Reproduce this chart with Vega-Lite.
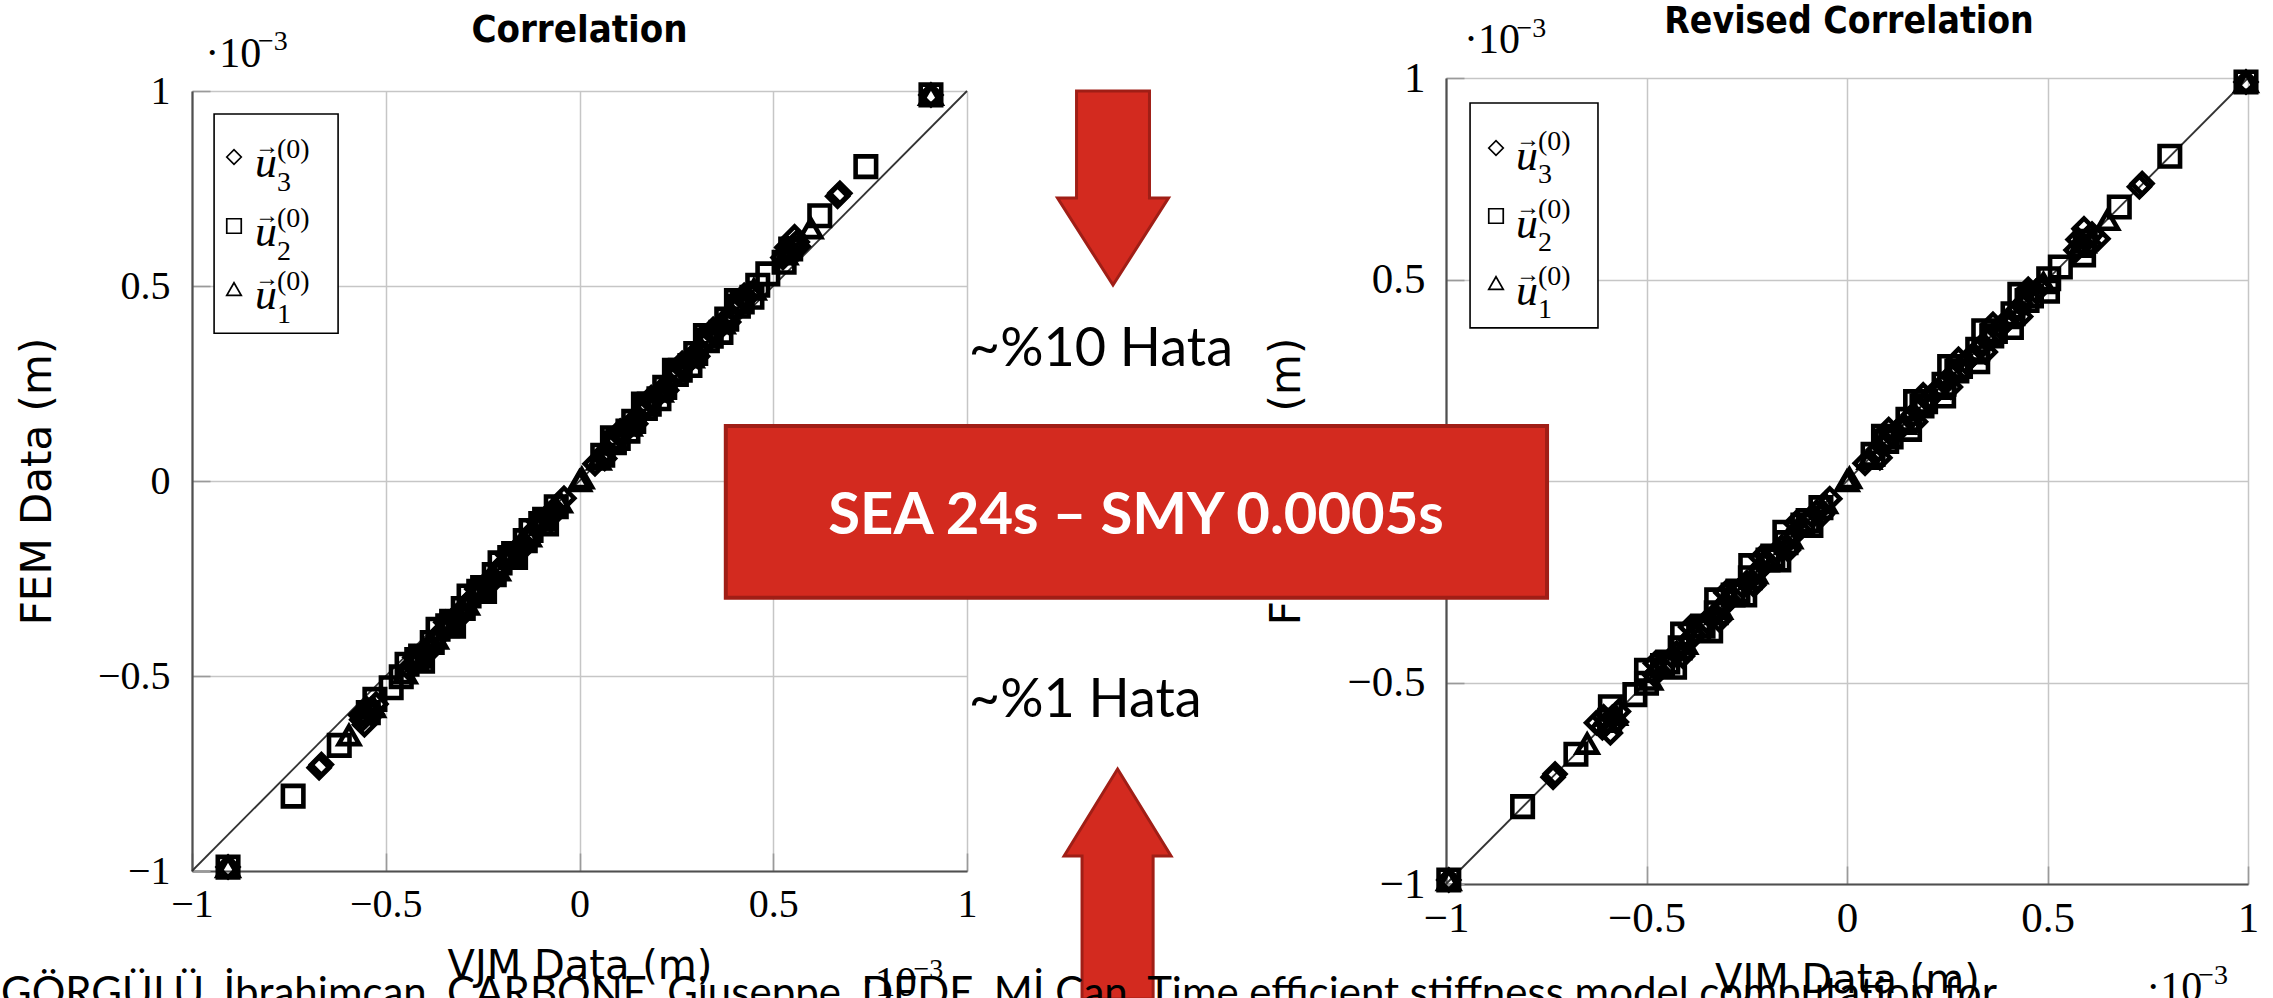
{
  "$schema": "https://vega.github.io/schema/vega-lite/v6.json",
  "background": "white",
  "padding": {"left": 0, "top": 2, "right": 0, "bottom": -17},
  "spacing": 479,
  "bounds": "flush",
  "center": true,
  "config": {
    "view": {"stroke": null},
    "axis": {
      "grid": true, "gridColor": "#c6c6c6", "gridWidth": 1.5,
      "domainColor": "#505050", "domainWidth": 2.2,
      "tickSize": -18, "tickColor": "#9a9a9a", "tickWidth": 1.6,
      "labelFont": "Liberation Serif", "labelColor": "#000",
      "titleFont": "DejaVu Sans", "titleFontWeight": "normal", "titleColor": "#000",
      "labelFlush": false
    }
  },
  "datasets": {
    "diag": [{"v": -1}, {"v": 1}],
    "leg": [
      {"s": "u3", "d": "3", "lx": -0.8916, "ly": 0.8308, "rx": -0.8753, "ry": 0.8263},
      {"s": "u2", "d": "2", "lx": -0.8916, "ly": 0.6538, "rx": -0.8753, "ry": 0.6576},
      {"s": "u1", "d": "1", "lx": -0.8916, "ly": 0.4923, "rx": -0.8753, "ry": 0.4913}
    ],
    "pts": [
      {"s": "u3", "vjm": -0.907, "fem": -0.99, "rev": -0.993},
      {"s": "u2", "vjm": -0.907, "fem": -0.99, "rev": -0.993},
      {"s": "u1", "vjm": -0.907, "fem": -0.99, "rev": -0.993},
      {"s": "u3", "vjm": 0.907, "fem": 0.99, "rev": 0.995},
      {"s": "u2", "vjm": 0.907, "fem": 0.99, "rev": 0.995},
      {"s": "u1", "vjm": 0.907, "fem": 0.99, "rev": 0.995},
      {"s": "u2", "vjm": -0.739, "fem": -0.808, "rev": -0.809},
      {"s": "u2", "vjm": 0.739, "fem": 0.806, "rev": 0.805},
      {"s": "u3", "vjm": -0.672, "fem": -0.735, "rev": -0.733},
      {"s": "u3", "vjm": -0.666, "fem": -0.727, "rev": -0.728},
      {"s": "u3", "vjm": 0.672, "fem": 0.738, "rev": 0.736},
      {"s": "u3", "vjm": 0.666, "fem": 0.73, "rev": 0.729},
      {"s": "u2", "vjm": -0.62, "fem": -0.678, "rev": -0.676},
      {"s": "u2", "vjm": 0.62, "fem": 0.68, "rev": 0.679},
      {"s": "u1", "vjm": -0.595, "fem": -0.652, "rev": -0.648},
      {"s": "u1", "vjm": 0.597, "fem": 0.648, "rev": 0.65},
      {"s": "u3", "vjm": -0.562, "fem": -0.612, "rev": -0.61},
      {"s": "u3", "vjm": -0.552, "fem": -0.601, "rev": -0.6},
      {"s": "u2", "vjm": -0.545, "fem": -0.594, "rev": -0.592},
      {"s": "u3", "vjm": -0.538, "fem": -0.586, "rev": -0.585},
      {"s": "u1", "vjm": -0.532, "fem": -0.58, "rev": -0.578},
      {"s": "u3", "vjm": -0.525, "fem": -0.572, "rev": -0.57},
      {"s": "u3", "vjm": -0.548, "fem": -0.585, "rev": -0.607},
      {"s": "u3", "vjm": -0.535, "fem": -0.598, "rev": -0.575},
      {"s": "u3", "vjm": -0.555, "fem": -0.625, "rev": -0.59},
      {"s": "u2", "vjm": -0.528, "fem": -0.56, "rev": -0.59},
      {"s": "u3", "vjm": -0.565, "fem": -0.6, "rev": -0.625},
      {"s": "u3", "vjm": 0.562, "fem": 0.613, "rev": 0.611},
      {"s": "u3", "vjm": 0.552, "fem": 0.602, "rev": 0.6},
      {"s": "u2", "vjm": 0.545, "fem": 0.595, "rev": 0.594},
      {"s": "u3", "vjm": 0.538, "fem": 0.587, "rev": 0.586},
      {"s": "u1", "vjm": 0.532, "fem": 0.581, "rev": 0.58},
      {"s": "u3", "vjm": 0.525, "fem": 0.573, "rev": 0.571},
      {"s": "u3", "vjm": 0.548, "fem": 0.586, "rev": 0.607},
      {"s": "u3", "vjm": 0.535, "fem": 0.599, "rev": 0.576},
      {"s": "u3", "vjm": 0.555, "fem": 0.626, "rev": 0.591},
      {"s": "u2", "vjm": 0.528, "fem": 0.561, "rev": 0.59},
      {"s": "u3", "vjm": 0.565, "fem": 0.601, "rev": 0.626},
      {"s": "u2", "vjm": -0.486, "fem": -0.53, "rev": -0.529},
      {"s": "u2", "vjm": 0.486, "fem": 0.531, "rev": 0.532},
      {"s": "u1", "vjm": 0, "fem": 0, "rev": 0},
      {"s": "u1", "vjm": 0.006, "fem": 0.007, "rev": 0.006},
      {"s": "u2", "vjm": -0.46, "fem": -0.502, "rev": -0.5},
      {"s": "u3", "vjm": -0.44, "fem": -0.481, "rev": -0.48},
      {"s": "u2", "vjm": -0.42, "fem": -0.458, "rev": -0.46},
      {"s": "u3", "vjm": -0.4, "fem": -0.437, "rev": -0.435},
      {"s": "u2", "vjm": -0.38, "fem": -0.414, "rev": -0.416},
      {"s": "u3", "vjm": -0.36, "fem": -0.393, "rev": -0.392},
      {"s": "u2", "vjm": -0.34, "fem": -0.371, "rev": -0.37},
      {"s": "u3", "vjm": -0.32, "fem": -0.348, "rev": -0.35},
      {"s": "u2", "vjm": -0.3, "fem": -0.327, "rev": -0.326},
      {"s": "u3", "vjm": -0.28, "fem": -0.306, "rev": -0.305},
      {"s": "u2", "vjm": -0.26, "fem": -0.283, "rev": -0.284},
      {"s": "u3", "vjm": -0.24, "fem": -0.262, "rev": -0.26},
      {"s": "u2", "vjm": -0.22, "fem": -0.24, "rev": -0.241},
      {"s": "u3", "vjm": -0.2, "fem": -0.218, "rev": -0.217},
      {"s": "u2", "vjm": -0.18, "fem": -0.196, "rev": -0.197},
      {"s": "u3", "vjm": -0.16, "fem": -0.175, "rev": -0.174},
      {"s": "u2", "vjm": -0.14, "fem": -0.153, "rev": -0.152},
      {"s": "u3", "vjm": -0.12, "fem": -0.131, "rev": -0.13},
      {"s": "u2", "vjm": -0.1, "fem": -0.109, "rev": -0.11},
      {"s": "u3", "vjm": -0.08, "fem": -0.087, "rev": -0.086},
      {"s": "u2", "vjm": -0.06, "fem": -0.066, "rev": -0.065},
      {"s": "u3", "vjm": -0.04, "fem": -0.044, "rev": -0.043},
      {"s": "u3", "vjm": -0.43, "fem": -0.471, "rev": -0.47},
      {"s": "u3", "vjm": -0.39, "fem": -0.427, "rev": -0.425},
      {"s": "u3", "vjm": -0.35, "fem": -0.383, "rev": -0.381},
      {"s": "u3", "vjm": -0.31, "fem": -0.339, "rev": -0.337},
      {"s": "u3", "vjm": -0.27, "fem": -0.295, "rev": -0.294},
      {"s": "u3", "vjm": -0.23, "fem": -0.252, "rev": -0.25},
      {"s": "u3", "vjm": -0.19, "fem": -0.208, "rev": -0.206},
      {"s": "u3", "vjm": -0.15, "fem": -0.164, "rev": -0.163},
      {"s": "u3", "vjm": -0.11, "fem": -0.12, "rev": -0.12},
      {"s": "u3", "vjm": -0.07, "fem": -0.077, "rev": -0.076},
      {"s": "u1", "vjm": -0.45, "fem": -0.493, "rev": -0.49},
      {"s": "u1", "vjm": -0.37, "fem": -0.404, "rev": -0.403},
      {"s": "u1", "vjm": -0.29, "fem": -0.317, "rev": -0.316},
      {"s": "u1", "vjm": -0.21, "fem": -0.229, "rev": -0.228},
      {"s": "u1", "vjm": -0.13, "fem": -0.142, "rev": -0.141},
      {"s": "u1", "vjm": -0.05, "fem": -0.055, "rev": -0.054},
      {"s": "u2", "vjm": -0.41, "fem": -0.449, "rev": -0.447},
      {"s": "u2", "vjm": -0.33, "fem": -0.36, "rev": -0.359},
      {"s": "u2", "vjm": -0.25, "fem": -0.273, "rev": -0.272},
      {"s": "u2", "vjm": -0.17, "fem": -0.186, "rev": -0.185},
      {"s": "u2", "vjm": -0.09, "fem": -0.098, "rev": -0.097},
      {"s": "u3", "vjm": -0.425, "fem": -0.452, "rev": -0.478},
      {"s": "u3", "vjm": -0.385, "fem": -0.434, "rev": -0.41},
      {"s": "u3", "vjm": -0.345, "fem": -0.362, "rev": -0.39},
      {"s": "u3", "vjm": -0.305, "fem": -0.345, "rev": -0.318},
      {"s": "u3", "vjm": -0.265, "fem": -0.277, "rev": -0.302},
      {"s": "u3", "vjm": -0.225, "fem": -0.258, "rev": -0.232},
      {"s": "u3", "vjm": -0.185, "fem": -0.19, "rev": -0.214},
      {"s": "u3", "vjm": -0.145, "fem": -0.171, "rev": -0.146},
      {"s": "u3", "vjm": -0.105, "fem": -0.105, "rev": -0.128},
      {"s": "u3", "vjm": -0.065, "fem": -0.083, "rev": -0.062},
      {"s": "u2", "vjm": -0.445, "fem": -0.47, "rev": -0.5},
      {"s": "u2", "vjm": -0.405, "fem": -0.462, "rev": -0.43},
      {"s": "u2", "vjm": -0.365, "fem": -0.38, "rev": -0.41},
      {"s": "u2", "vjm": -0.325, "fem": -0.372, "rev": -0.34},
      {"s": "u2", "vjm": -0.285, "fem": -0.295, "rev": -0.325},
      {"s": "u2", "vjm": -0.245, "fem": -0.283, "rev": -0.255},
      {"s": "u2", "vjm": -0.205, "fem": -0.21, "rev": -0.24},
      {"s": "u2", "vjm": -0.165, "fem": -0.196, "rev": -0.17},
      {"s": "u2", "vjm": -0.125, "fem": -0.127, "rev": -0.155},
      {"s": "u2", "vjm": -0.085, "fem": -0.11, "rev": -0.09},
      {"s": "u3", "vjm": 0.04, "fem": 0.044, "rev": 0.045},
      {"s": "u2", "vjm": 0.06, "fem": 0.066, "rev": 0.065},
      {"s": "u3", "vjm": 0.08, "fem": 0.088, "rev": 0.087},
      {"s": "u2", "vjm": 0.1, "fem": 0.109, "rev": 0.11},
      {"s": "u3", "vjm": 0.12, "fem": 0.131, "rev": 0.132},
      {"s": "u2", "vjm": 0.14, "fem": 0.153, "rev": 0.152},
      {"s": "u3", "vjm": 0.16, "fem": 0.175, "rev": 0.176},
      {"s": "u2", "vjm": 0.18, "fem": 0.197, "rev": 0.196},
      {"s": "u3", "vjm": 0.2, "fem": 0.219, "rev": 0.218},
      {"s": "u2", "vjm": 0.22, "fem": 0.24, "rev": 0.242},
      {"s": "u3", "vjm": 0.24, "fem": 0.262, "rev": 0.261},
      {"s": "u2", "vjm": 0.26, "fem": 0.284, "rev": 0.283},
      {"s": "u3", "vjm": 0.28, "fem": 0.306, "rev": 0.307},
      {"s": "u2", "vjm": 0.3, "fem": 0.327, "rev": 0.326},
      {"s": "u3", "vjm": 0.32, "fem": 0.349, "rev": 0.35},
      {"s": "u2", "vjm": 0.34, "fem": 0.371, "rev": 0.37},
      {"s": "u3", "vjm": 0.36, "fem": 0.393, "rev": 0.394},
      {"s": "u2", "vjm": 0.38, "fem": 0.415, "rev": 0.414},
      {"s": "u3", "vjm": 0.4, "fem": 0.437, "rev": 0.436},
      {"s": "u2", "vjm": 0.42, "fem": 0.459, "rev": 0.46},
      {"s": "u3", "vjm": 0.44, "fem": 0.48, "rev": 0.481},
      {"s": "u2", "vjm": 0.46, "fem": 0.502, "rev": 0.503},
      {"s": "u3", "vjm": 0.07, "fem": 0.077, "rev": 0.078},
      {"s": "u3", "vjm": 0.11, "fem": 0.12, "rev": 0.121},
      {"s": "u3", "vjm": 0.15, "fem": 0.164, "rev": 0.165},
      {"s": "u3", "vjm": 0.19, "fem": 0.207, "rev": 0.208},
      {"s": "u3", "vjm": 0.23, "fem": 0.251, "rev": 0.252},
      {"s": "u3", "vjm": 0.27, "fem": 0.295, "rev": 0.296},
      {"s": "u3", "vjm": 0.31, "fem": 0.338, "rev": 0.339},
      {"s": "u3", "vjm": 0.35, "fem": 0.382, "rev": 0.383},
      {"s": "u3", "vjm": 0.39, "fem": 0.426, "rev": 0.427},
      {"s": "u3", "vjm": 0.43, "fem": 0.47, "rev": 0.471},
      {"s": "u1", "vjm": 0.05, "fem": 0.055, "rev": 0.056},
      {"s": "u1", "vjm": 0.13, "fem": 0.142, "rev": 0.143},
      {"s": "u1", "vjm": 0.21, "fem": 0.229, "rev": 0.23},
      {"s": "u1", "vjm": 0.29, "fem": 0.317, "rev": 0.318},
      {"s": "u1", "vjm": 0.37, "fem": 0.404, "rev": 0.405},
      {"s": "u1", "vjm": 0.45, "fem": 0.491, "rev": 0.49},
      {"s": "u2", "vjm": 0.09, "fem": 0.098, "rev": 0.099},
      {"s": "u2", "vjm": 0.17, "fem": 0.186, "rev": 0.187},
      {"s": "u2", "vjm": 0.25, "fem": 0.273, "rev": 0.274},
      {"s": "u2", "vjm": 0.33, "fem": 0.36, "rev": 0.361},
      {"s": "u2", "vjm": 0.41, "fem": 0.448, "rev": 0.449},
      {"s": "u3", "vjm": 0.065, "fem": 0.058, "rev": 0.082},
      {"s": "u3", "vjm": 0.105, "fem": 0.128, "rev": 0.104},
      {"s": "u3", "vjm": 0.145, "fem": 0.147, "rev": 0.171},
      {"s": "u3", "vjm": 0.185, "fem": 0.214, "rev": 0.19},
      {"s": "u3", "vjm": 0.225, "fem": 0.233, "rev": 0.258},
      {"s": "u3", "vjm": 0.265, "fem": 0.302, "rev": 0.278},
      {"s": "u3", "vjm": 0.305, "fem": 0.32, "rev": 0.345},
      {"s": "u3", "vjm": 0.345, "fem": 0.389, "rev": 0.364},
      {"s": "u3", "vjm": 0.385, "fem": 0.408, "rev": 0.433},
      {"s": "u3", "vjm": 0.425, "fem": 0.476, "rev": 0.452},
      {"s": "u2", "vjm": 0.445, "fem": 0.471, "rev": 0.5},
      {"s": "u2", "vjm": 0.405, "fem": 0.463, "rev": 0.431},
      {"s": "u2", "vjm": 0.365, "fem": 0.381, "rev": 0.41},
      {"s": "u2", "vjm": 0.325, "fem": 0.373, "rev": 0.341},
      {"s": "u2", "vjm": 0.285, "fem": 0.296, "rev": 0.326},
      {"s": "u2", "vjm": 0.245, "fem": 0.284, "rev": 0.256},
      {"s": "u2", "vjm": 0.205, "fem": 0.211, "rev": 0.241},
      {"s": "u2", "vjm": 0.165, "fem": 0.197, "rev": 0.171},
      {"s": "u2", "vjm": 0.125, "fem": 0.128, "rev": 0.156},
      {"s": "u2", "vjm": 0.085, "fem": 0.111, "rev": 0.091}
    ]
  },
  "hconcat": [
    {
      "width": 775,
      "height": 780,
      "layer": [
        {
          "data": {"name": "diag"},
          "mark": {"type": "line", "color": "#333", "strokeWidth": 1.8},
          "encoding": {
            "x": {"field": "v", "type": "quantitative", "scale": {"domain": [-1, 1], "nice": false, "zero": false}},
            "y": {"field": "v", "type": "quantitative", "scale": {"domain": [-1, 1], "nice": false, "zero": false}}
          }
        },
        {
          "data": {"name": "pts"},
          "mark": {"type": "point", "filled": false, "color": "#000", "strokeWidth": 4.6, "size": 420, "opacity": 1},
          "encoding": {
            "x": {"field": "vjm", "type": "quantitative", "scale": {"domain": [-1, 1], "nice": false, "zero": false},
              "axis": {"title": "VJM Data (m)", "values": [-1, -0.5, 0, 0.5, 1], "format": ".1~f", "labelFontSize": 40, "labelPadding": 31, "titleFontSize": 40, "titlePadding": 22}},
            "y": {"field": "fem", "type": "quantitative", "scale": {"domain": [-1, 1], "nice": false, "zero": false},
              "axis": {"title": "FEM Data (m)", "values": [-1, -0.5, 0, 0.5, 1], "format": ".1~f", "labelFontSize": 40, "labelPadding": 40, "titleFontSize": 42, "titlePadding": 38}},
            "shape": {"field": "s", "type": "nominal", "scale": {"domain": ["u3", "u2", "u1"], "range": ["diamond", "square", "triangle-up"]}, "legend": null}
          }
        },
        {
          "data": {"values": [{"x": -0.943, "x2": -0.623, "y": 0.941, "y2": 0.379}]},
          "mark": {"type": "rect", "fill": "#fff", "stroke": "#000", "strokeWidth": 1.6},
          "encoding": {
            "x": {"field": "x", "type": "quantitative", "scale": {"domain": [-1, 1], "nice": false, "zero": false}},
            "x2": {"field": "x2"},
            "y": {"field": "y", "type": "quantitative", "scale": {"domain": [-1, 1], "nice": false, "zero": false}},
            "y2": {"field": "y2"}
          }
        },
        {
          "data": {"name": "leg"},
          "mark": {"type": "point", "filled": false, "color": "#000", "strokeWidth": 1.7, "size": 210, "opacity": 1},
          "encoding": {
            "x": {"field": "lx", "type": "quantitative", "scale": {"domain": [-1, 1], "nice": false, "zero": false}},
            "y": {"field": "ly", "type": "quantitative", "scale": {"domain": [-1, 1], "nice": false, "zero": false}},
            "shape": {"field": "s", "type": "nominal", "scale": {"domain": ["u3", "u2", "u1"], "range": ["diamond", "square", "triangle-up"]}, "legend": null}
          }
        },
        {
          "data": {"name": "leg"},
          "mark": {"type": "text", "text": "u", "font": "Liberation Serif", "fontStyle": "italic", "fontSize": 44, "align": "left", "baseline": "alphabetic", "dx": 21, "dy": 20, "color": "#000"},
          "encoding": {
            "x": {"field": "lx", "type": "quantitative", "scale": {"domain": [-1, 1], "nice": false, "zero": false}},
            "y": {"field": "ly", "type": "quantitative", "scale": {"domain": [-1, 1], "nice": false, "zero": false}}
          }
        },
        {
          "data": {"name": "leg"},
          "mark": {"type": "text", "text": "→", "font": "Liberation Serif", "fontSize": 24, "align": "center", "baseline": "middle", "dx": 33, "dy": -10, "color": "#000"},
          "encoding": {
            "x": {"field": "lx", "type": "quantitative", "scale": {"domain": [-1, 1], "nice": false, "zero": false}},
            "y": {"field": "ly", "type": "quantitative", "scale": {"domain": [-1, 1], "nice": false, "zero": false}}
          }
        },
        {
          "data": {"name": "leg"},
          "mark": {"type": "text", "text": "(0)", "font": "Liberation Serif", "fontSize": 28, "align": "left", "baseline": "alphabetic", "dx": 43, "dy": 1, "color": "#000"},
          "encoding": {
            "x": {"field": "lx", "type": "quantitative", "scale": {"domain": [-1, 1], "nice": false, "zero": false}},
            "y": {"field": "ly", "type": "quantitative", "scale": {"domain": [-1, 1], "nice": false, "zero": false}}
          }
        },
        {
          "data": {"name": "leg"},
          "mark": {"type": "text", "font": "Liberation Serif", "fontSize": 28, "align": "left", "baseline": "alphabetic", "dx": 43, "dy": 34, "color": "#000"},
          "encoding": {
            "x": {"field": "lx", "type": "quantitative", "scale": {"domain": [-1, 1], "nice": false, "zero": false}},
            "y": {"field": "ly", "type": "quantitative", "scale": {"domain": [-1, 1], "nice": false, "zero": false}},
            "text": {"field": "d"}
          }
        },
        {
          "data": {"values": [{"x": 0.0, "y": 1.1254, "t": "Correlation"}]},
          "mark": {"type": "text", "font": "DejaVu Sans Condensed, Liberation Sans Narrow, sans-serif", "fontWeight": "bold", "fontSize": 38, "align": "center", "baseline": "alphabetic", "color": "#000"},
          "encoding": {
            "x": {"field": "x", "type": "quantitative", "scale": {"domain": [-1, 1], "nice": false, "zero": false}},
            "y": {"field": "y", "type": "quantitative", "scale": {"domain": [-1, 1], "nice": false, "zero": false}},
            "text": {"field": "t"}
          }
        },
        {
          "data": {"values": [{"x": -0.966, "y": 1.0615, "t": "·10"}, {"x": 0.726, "y": -1.3205, "t": "·10"}]},
          "mark": {"type": "text", "font": "Liberation Serif", "fontSize": 42, "align": "left", "baseline": "alphabetic", "color": "#000"},
          "encoding": {
            "x": {"field": "x", "type": "quantitative", "scale": {"domain": [-1, 1], "nice": false, "zero": false}},
            "y": {"field": "y", "type": "quantitative", "scale": {"domain": [-1, 1], "nice": false, "zero": false}},
            "text": {"field": "t"}
          }
        },
        {
          "data": {"values": [{"x": -0.83, "y": 1.105, "t": "−3"}, {"x": 0.862, "y": -1.275, "t": "−3"}]},
          "mark": {"type": "text", "font": "Liberation Serif", "fontSize": 28, "align": "left", "baseline": "alphabetic", "color": "#000"},
          "encoding": {
            "x": {"field": "x", "type": "quantitative", "scale": {"domain": [-1, 1], "nice": false, "zero": false}},
            "y": {"field": "y", "type": "quantitative", "scale": {"domain": [-1, 1], "nice": false, "zero": false}},
            "text": {"field": "t"}
          }
        }
      ]
    },
    {
      "width": 802,
      "height": 806,
      "layer": [
        {
          "data": {"name": "diag"},
          "mark": {"type": "line", "color": "#333", "strokeWidth": 1.8},
          "encoding": {
            "x": {"field": "v", "type": "quantitative", "scale": {"domain": [-1, 1], "nice": false, "zero": false}},
            "y": {"field": "v", "type": "quantitative", "scale": {"domain": [-1, 1], "nice": false, "zero": false}}
          }
        },
        {
          "data": {"name": "pts"},
          "mark": {"type": "point", "filled": false, "color": "#000", "strokeWidth": 4.6, "size": 420, "opacity": 1},
          "encoding": {
            "x": {"field": "rev", "type": "quantitative", "scale": {"domain": [-1, 1], "nice": false, "zero": false},
              "axis": {"title": "VJM Data (m)", "values": [-1, -0.5, 0, 0.5, 1], "format": ".1~f", "labelFontSize": 43, "labelPadding": 31, "titleFontSize": 40, "titlePadding": 20}},
            "y": {"field": "fem", "type": "quantitative", "scale": {"domain": [-1, 1], "nice": false, "zero": false},
              "axis": {"title": "FEM Data (m)", "values": [-1, -0.5, 0, 0.5, 1], "format": ".1~f", "labelFontSize": 43, "labelPadding": 39, "titleFontSize": 42, "titlePadding": 38}},
            "shape": {"field": "s", "type": "nominal", "scale": {"domain": ["u3", "u2", "u1"], "range": ["diamond", "square", "triangle-up"]}, "legend": null}
          }
        },
        {
          "data": {"values": [{"x": -0.94, "x2": -0.621, "y": 0.938, "y2": 0.38}]},
          "mark": {"type": "rect", "fill": "#fff", "stroke": "#000", "strokeWidth": 1.6},
          "encoding": {
            "x": {"field": "x", "type": "quantitative", "scale": {"domain": [-1, 1], "nice": false, "zero": false}},
            "x2": {"field": "x2"},
            "y": {"field": "y", "type": "quantitative", "scale": {"domain": [-1, 1], "nice": false, "zero": false}},
            "y2": {"field": "y2"}
          }
        },
        {
          "data": {"name": "leg"},
          "mark": {"type": "point", "filled": false, "color": "#000", "strokeWidth": 1.7, "size": 210, "opacity": 1},
          "encoding": {
            "x": {"field": "rx", "type": "quantitative", "scale": {"domain": [-1, 1], "nice": false, "zero": false}},
            "y": {"field": "ry", "type": "quantitative", "scale": {"domain": [-1, 1], "nice": false, "zero": false}},
            "shape": {"field": "s", "type": "nominal", "scale": {"domain": ["u3", "u2", "u1"], "range": ["diamond", "square", "triangle-up"]}, "legend": null}
          }
        },
        {
          "data": {"name": "leg"},
          "mark": {"type": "text", "text": "u", "font": "Liberation Serif", "fontStyle": "italic", "fontSize": 44, "align": "left", "baseline": "alphabetic", "dx": 20, "dy": 22, "color": "#000"},
          "encoding": {
            "x": {"field": "rx", "type": "quantitative", "scale": {"domain": [-1, 1], "nice": false, "zero": false}},
            "y": {"field": "ry", "type": "quantitative", "scale": {"domain": [-1, 1], "nice": false, "zero": false}}
          }
        },
        {
          "data": {"name": "leg"},
          "mark": {"type": "text", "text": "→", "font": "Liberation Serif", "fontSize": 24, "align": "center", "baseline": "middle", "dx": 32, "dy": -8, "color": "#000"},
          "encoding": {
            "x": {"field": "rx", "type": "quantitative", "scale": {"domain": [-1, 1], "nice": false, "zero": false}},
            "y": {"field": "ry", "type": "quantitative", "scale": {"domain": [-1, 1], "nice": false, "zero": false}}
          }
        },
        {
          "data": {"name": "leg"},
          "mark": {"type": "text", "text": "(0)", "font": "Liberation Serif", "fontSize": 28, "align": "left", "baseline": "alphabetic", "dx": 42, "dy": 2, "color": "#000"},
          "encoding": {
            "x": {"field": "rx", "type": "quantitative", "scale": {"domain": [-1, 1], "nice": false, "zero": false}},
            "y": {"field": "ry", "type": "quantitative", "scale": {"domain": [-1, 1], "nice": false, "zero": false}}
          }
        },
        {
          "data": {"name": "leg"},
          "mark": {"type": "text", "font": "Liberation Serif", "fontSize": 28, "align": "left", "baseline": "alphabetic", "dx": 42, "dy": 35, "color": "#000"},
          "encoding": {
            "x": {"field": "rx", "type": "quantitative", "scale": {"domain": [-1, 1], "nice": false, "zero": false}},
            "y": {"field": "ry", "type": "quantitative", "scale": {"domain": [-1, 1], "nice": false, "zero": false}},
            "text": {"field": "d"}
          }
        },
        {
          "data": {"values": [{"x": 0.005, "y": 1.1117, "t": "Revised Correlation"}]},
          "mark": {"type": "text", "font": "DejaVu Sans Condensed, Liberation Sans Narrow, sans-serif", "fontWeight": "bold", "fontSize": 37, "align": "center", "baseline": "alphabetic", "color": "#000"},
          "encoding": {
            "x": {"field": "x", "type": "quantitative", "scale": {"domain": [-1, 1], "nice": false, "zero": false}},
            "y": {"field": "y", "type": "quantitative", "scale": {"domain": [-1, 1], "nice": false, "zero": false}},
            "text": {"field": "t"}
          }
        },
        {
          "data": {"values": [{"x": -0.955, "y": 1.062, "t": "·10"}, {"x": 0.746, "y": -1.29, "t": "·10"}]},
          "mark": {"type": "text", "font": "Liberation Serif", "fontSize": 42, "align": "left", "baseline": "alphabetic", "color": "#000"},
          "encoding": {
            "x": {"field": "x", "type": "quantitative", "scale": {"domain": [-1, 1], "nice": false, "zero": false}},
            "y": {"field": "y", "type": "quantitative", "scale": {"domain": [-1, 1], "nice": false, "zero": false}},
            "text": {"field": "t"}
          }
        },
        {
          "data": {"values": [{"x": -0.824, "y": 1.101, "t": "−3"}, {"x": 0.876, "y": -1.247, "t": "−3"}]},
          "mark": {"type": "text", "font": "Liberation Serif", "fontSize": 28, "align": "left", "baseline": "alphabetic", "color": "#000"},
          "encoding": {
            "x": {"field": "x", "type": "quantitative", "scale": {"domain": [-1, 1], "nice": false, "zero": false}},
            "y": {"field": "y", "type": "quantitative", "scale": {"domain": [-1, 1], "nice": false, "zero": false}},
            "text": {"field": "t"}
          }
        },
        {
          "data": {"values": [{"x": -2.796, "x2": -0.748, "y": 0.1365, "y2": -0.29}]},
          "mark": {"type": "rect", "fill": "#d32a1f", "stroke": "#a01e16", "strokeWidth": 4},
          "encoding": {
            "x": {"field": "x", "type": "quantitative", "scale": {"domain": [-1, 1], "nice": false, "zero": false}},
            "x2": {"field": "x2"},
            "y": {"field": "y", "type": "quantitative", "scale": {"domain": [-1, 1], "nice": false, "zero": false}},
            "y2": {"field": "y2"}
          }
        },
        {
          "data": {"values": [{"x": -1.773, "y": -0.1315, "t": "SEA 24s – SMY 0.0005s"}]},
          "mark": {"type": "text", "font": "Lato", "fontWeight": "bold", "fontSize": 58, "align": "center", "baseline": "alphabetic", "color": "#fff"},
          "encoding": {
            "x": {"field": "x", "type": "quantitative", "scale": {"domain": [-1, 1], "nice": false, "zero": false}},
            "y": {"field": "y", "type": "quantitative", "scale": {"domain": [-1, 1], "nice": false, "zero": false}},
            "text": {"field": "t"}
          }
        },
        {
          "data": {"values": [{"x": -1.8304, "y": 0.727}]},
          "mark": {"type": "point", "shape": "M-0.376,-1L0.376,-1L0.376,0.103L0.572,0.103L0,1L-0.572,0.103L-0.376,0.103Z", "filled": true, "fill": "#d32a1f", "stroke": "#a01e16", "strokeWidth": 3, "size": 37636, "opacity": 1},
          "encoding": {
            "x": {"field": "x", "type": "quantitative", "scale": {"domain": [-1, 1], "nice": false, "zero": false}},
            "y": {"field": "y", "type": "quantitative", "scale": {"domain": [-1, 1], "nice": false, "zero": false}}
          }
        },
        {
          "data": {"values": [{"x": -1.819, "y": -1.0}]},
          "mark": {"type": "point", "shape": "M0,-1L0.465,-0.243L0.309,-0.243L0.309,1L-0.309,1L-0.309,-0.243L-0.465,-0.243Z", "filled": true, "fill": "#d32a1f", "stroke": "#a01e16", "strokeWidth": 3, "size": 52900, "opacity": 1},
          "encoding": {
            "x": {"field": "x", "type": "quantitative", "scale": {"domain": [-1, 1], "nice": false, "zero": false}},
            "y": {"field": "y", "type": "quantitative", "scale": {"domain": [-1, 1], "nice": false, "zero": false}}
          }
        },
        {
          "data": {"values": [{"x": -2.19, "y": 0.2854, "t": "~%10 Hata"}, {"x": -2.19, "y": -0.5856, "t": "~%1 Hata"}]},
          "mark": {"type": "text", "font": "Lato", "fontSize": 54, "align": "left", "baseline": "alphabetic", "color": "#000"},
          "encoding": {
            "x": {"field": "x", "type": "quantitative", "scale": {"domain": [-1, 1], "nice": false, "zero": false}},
            "y": {"field": "y", "type": "quantitative", "scale": {"domain": [-1, 1], "nice": false, "zero": false}},
            "text": {"field": "t"}
          }
        },
        {
          "data": {"values": [{"x": -4.6035, "y": -1.305, "t": "GÖRGÜLÜ, İbrahimcan, CARBONE, Giuseppe, DEDE, Mİ Can. Time efficient stiffness model computation for"}]},
          "mark": {"type": "text", "font": "Lato", "fontSize": 42, "align": "left", "baseline": "alphabetic", "color": "#000"},
          "encoding": {
            "x": {"field": "x", "type": "quantitative", "scale": {"domain": [-1, 1], "nice": false, "zero": false}},
            "y": {"field": "y", "type": "quantitative", "scale": {"domain": [-1, 1], "nice": false, "zero": false}},
            "text": {"field": "t"}
          }
        }
      ]
    }
  ]
}
